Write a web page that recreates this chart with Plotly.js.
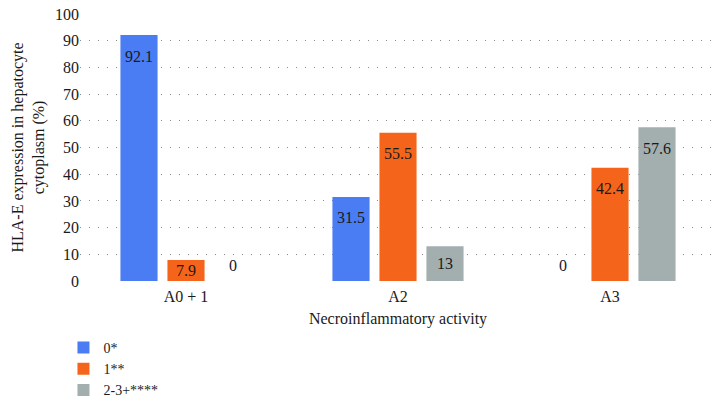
<!DOCTYPE html>
<html>
<head>
<meta charset="utf-8">
<script src="https://cdn.plot.ly/plotly-3.0.1.min.js"></script>
<style>
  body { margin: 0; background: #fff; }
  #chart { width: 728px; height: 404px; }
</style>
</head>
<body>
<div id="chart"></div>
<script>
/* chart data */
var categories = ['A0 + 1', 'A2', 'A3'];
var seriesNames = ['0*', '1**', '2-3+****'];
var grade0 = [92.1, 31.5, 0];
var grade1 = [7.9, 55.5, 42.4];
var grade23 = [0, 13, 57.6];
var yTicks = [0, 10, 20, 30, 40, 50, 60, 70, 80, 90, 100];

var colors = ['#4a7cf3', '#f5641b', '#a3afaf'];
var FONT = 'Liberation Serif, DejaVu Serif, serif';

/* layout constants */
var W = 728, H = 404;
var MARGIN = {l: 80, r: 12, t: 14, b: 123, autoexpand: false};
var BARGAP = 0.335;
var Y_MAX = 100;

var series = [grade0, grade1, grade23];

var data = series.map(function(values, i){
    return {
        type: 'bar',
        name: seriesNames[i],
        x: categories,
        y: values,
        marker: {color: colors[i]},
        hoverinfo: 'none'
    };
});

/* value labels: placed through the axes, shifted to each bar of the group */
var plotH = H - MARGIN.t - MARGIN.b;
var catWidth = (W - MARGIN.l - MARGIN.r) / categories.length;
var slot = catWidth * (1 - BARGAP) / series.length;
var annotations = [];
series.forEach(function(values, i){
    values.forEach(function(v, j){
        var barPx = v / Y_MAX * plotH;
        annotations.push({
            x: categories[j],
            y: v,
            xref: 'x', yref: 'y',
            text: String(v),
            showarrow: false,
            xshift: (i - (series.length - 1) / 2) * slot,
            // labels sit near the top inside the bar; short bars keep them centred-ish
            yshift: v > 0 ? -Math.min(21, barPx * 0.5) : 16,
            font: {family: FONT, size: 16, color: '#1a1a1a'}
        });
    });
});

var layout = {
    width: W,
    height: H,
    margin: MARGIN,
    paper_bgcolor: '#ffffff',
    plot_bgcolor: '#ffffff',
    font: {family: FONT, size: 16, color: '#1a1a1a'},
    barmode: 'group',
    bargap: BARGAP,
    bargroupgap: 0.21,
    showlegend: true,
    legend: {
        x: -0.026, xanchor: 'left',
        y: -0.191, yanchor: 'top',
        orientation: 'v',
        font: {family: FONT, size: 14},
        tracegroupgap: 0,
        itemwidth: 30
    },
    annotations: annotations,
    xaxis: {
        title: {text: 'Necroinflammatory activity', font: {size: 16}, standoff: 8},
        showgrid: false,
        zeroline: false,
        showline: false,
        ticks: '',
        ticklabelstandoff: 4,
        tickfont: {size: 16}
    },
    yaxis: {
        title: {text: 'HLA-E expression in hepatocyte<br>cytoplasm (%)', font: {size: 16}, standoff: 6},
        range: [0, Y_MAX],
        tickvals: yTicks,
        ticktext: yTicks.map(String),
        showgrid: true,
        gridcolor: '#8a8a8a',
        griddash: '1px,8px',
        gridwidth: 1,
        zeroline: false,
        showline: false,
        ticks: '',
        tickfont: {size: 16}
    }
};

Plotly.newPlot('chart', data, layout, {displayModeBar: false, staticPlot: true});
</script>
</body>
</html>
